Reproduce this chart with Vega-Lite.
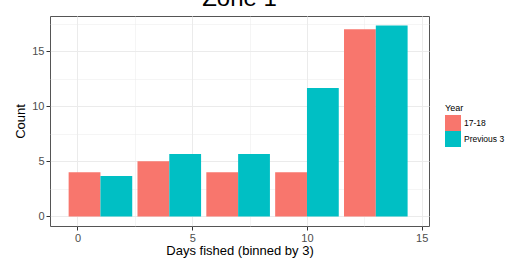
{
  "$schema": "https://vega.github.io/schema/vega-lite/v6.json",
  "width": 379,
  "height": 210,
  "autosize": "none",
  "padding": {"left": 50, "top": 16, "right": 79, "bottom": 32},
  "background": "white",
  "title": {"text": "Zone 1", "fontSize": 24, "fontWeight": "normal", "font": "Liberation Sans", "color": "#000000", "anchor": "middle", "offset": 5},
  "data": {"values": [
    {"days": 1, "Year": "17-18", "count": 4},
    {"days": 4, "Year": "17-18", "count": 5},
    {"days": 7, "Year": "17-18", "count": 4},
    {"days": 10, "Year": "17-18", "count": 4},
    {"days": 13, "Year": "17-18", "count": 17},
    {"days": 1, "Year": "Previous 3", "count": 3.667},
    {"days": 4, "Year": "Previous 3", "count": 5.667},
    {"days": 7, "Year": "Previous 3", "count": 5.667},
    {"days": 10, "Year": "Previous 3", "count": 11.667},
    {"days": 13, "Year": "Previous 3", "count": 17.333}
  ]},
  "encoding": {
    "x": {"field": "days", "type": "quantitative", "title": "Days fished (binned by 3)",
      "scale": {"domain": [-0.98, 15.1], "nice": false, "zero": false},
      "axis": {"values": [0, 2.5, 5, 7.5, 10, 12.5, 15],
        "labelExpr": "datum.value % 5 === 0 ? datum.label : ''",
        "tickOpacity": {"condition": {"test": "datum.value % 5 !== 0", "value": 0}, "value": 1},
        "gridWidth": {"condition": {"test": "datum.value % 5 !== 0", "value": 0.5}, "value": 1}}},
    "y": {"field": "count", "type": "quantitative", "title": "Count", "stack": null,
      "scale": {"domain": [-0.87, 18.2], "nice": false, "zero": false},
      "axis": {"values": [0, 2.5, 5, 7.5, 10, 12.5, 15, 17.5],
        "labelExpr": "datum.value % 5 === 0 ? datum.label : ''",
        "tickOpacity": {"condition": {"test": "datum.value % 5 !== 0", "value": 0}, "value": 1},
        "gridWidth": {"condition": {"test": "datum.value % 5 !== 0", "value": 0.5}, "value": 1}}},
    "y2": {"datum": 0},
    "color": {"field": "Year", "type": "nominal",
      "scale": {"domain": ["17-18", "Previous 3"], "range": ["#F8766D", "#00BFC4"]},
      "legend": {"orient": "none", "legendX": 395, "legendY": 88, "symbolType": "square", "symbolSize": 256,
        "symbolStrokeWidth": 0, "rowPadding": 0, "labelFontSize": 8.5, "titleFontSize": 9, "titleFontWeight": "normal",
        "labelOffset": 3, "titlePadding": 2, "labelColor": "#000000", "titleColor": "#000000"}}
  },
  "layer": [
    {"transform": [{"filter": "datum.Year === '17-18'"}],
     "mark": {"type": "bar", "width": 31.8, "xOffset": -15.9}},
    {"transform": [{"filter": "datum.Year === 'Previous 3'"}],
     "mark": {"type": "bar", "width": 31.8, "xOffset": 15.9}}
  ],
  "config": {
    "font": "Liberation Sans",
    "view": {"stroke": "#555555", "strokeWidth": 1},
    "axis": {"domain": false, "gridColor": "#EBEBEB", "tickColor": "#333333", "tickSize": 4,
      "labelColor": "#4D4D4D", "labelFontSize": 11, "titleFontSize": 13, "titleFontWeight": "normal", "titleColor": "#000000"},
    "axisX": {"labelPadding": 2, "titlePadding": 1},
    "axisY": {"labelPadding": 2, "titlePadding": 4}
  }
}
